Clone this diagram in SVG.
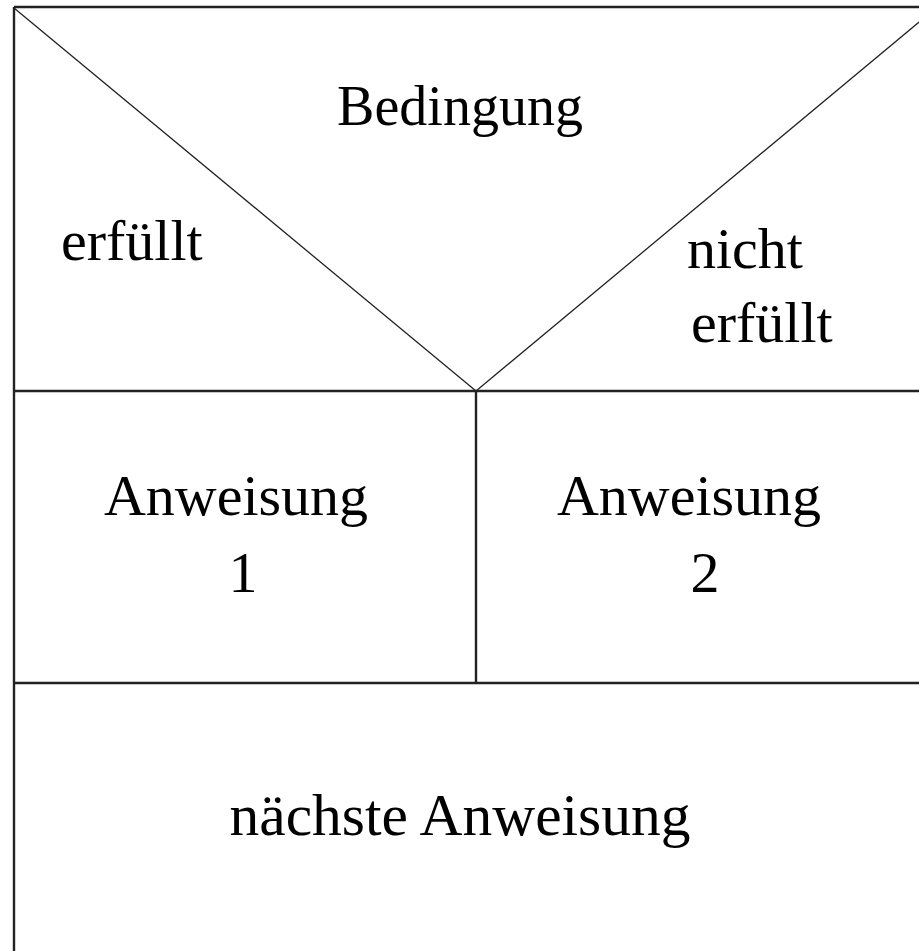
<svg xmlns="http://www.w3.org/2000/svg" width="919" height="951" viewBox="0 0 919 951">
<style>
.frame{stroke:#222;stroke-width:2.4;fill:none}
.diag{stroke:#222;stroke-width:1.3;fill:none}
text{font-family:"Liberation Serif","Times New Roman",serif;font-size:58px;fill:#000}
.c{text-anchor:middle}
</style>
<rect width="919" height="951" fill="#fff"/>
<g id="connectors">
<line class="frame" x1="14" y1="7" x2="919" y2="7"/>
<line class="frame" x1="14" y1="7" x2="14" y2="951"/>
<line class="frame" x1="14" y1="391" x2="919" y2="391"/>
<line class="frame" x1="476" y1="391" x2="476" y2="683"/>
<line class="frame" x1="14" y1="683" x2="919" y2="683"/>
<line class="diag" x1="14" y1="8" x2="476" y2="391"/>
<line class="diag" x1="476" y1="391" x2="936" y2="8"/>
</g>
<g id="condition">
<text class="c" x="460" y="125" style="font-size:56px">Bedingung</text>
<text x="61" y="260">erfüllt</text>
<text x="687" y="268">nicht</text>
<text x="691" y="342">erfüllt</text>
</g>
<g id="statement1">
<text class="c" x="236" y="515">Anweisung</text>
<text class="c" x="243" y="592">1</text>
</g>
<g id="statement2">
<text class="c" x="689" y="515">Anweisung</text>
<text class="c" x="705" y="592">2</text>
</g>
<g id="next">
<text class="c" x="460" y="835" style="font-size:59.5px">nächste Anweisung</text>
</g>
</svg>
